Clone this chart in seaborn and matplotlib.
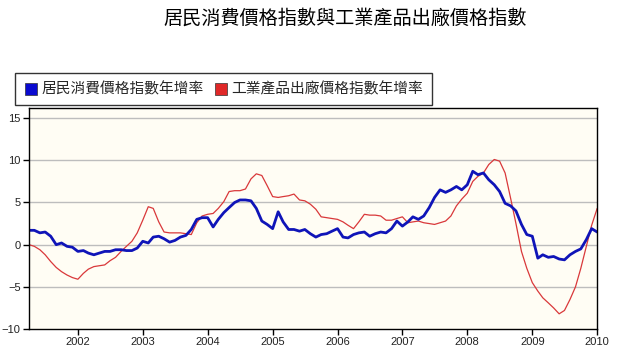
import matplotlib
matplotlib.use('Agg')
import matplotlib.pyplot as plt
from matplotlib.lines import Line2D
import seaborn as sns
import pandas as pd

sns.set_style('white')
plt.rcParams['font.family'] = ['Liberation Sans', 'Noto Sans CJK TC', 'DejaVu Sans']

# Monthly data, Apr 2001 .. Jan 2010
months = pd.date_range('2001-04-01', '2010-01-01', freq='MS')

cpi = [1.7, 1.7, 1.4, 1.5, 1.0, 0.0, 0.2, -0.2, -0.3,
       -0.8, -0.7, -1.0, -1.2, -1.0, -0.8, -0.8, -0.6, -0.6, -0.7, -0.7, -0.4,
       0.4, 0.2, 0.9, 1.0, 0.7, 0.3, 0.5, 0.9, 1.1, 1.8, 3.0, 3.2,
       3.2, 2.1, 3.0, 3.8, 4.4, 5.0, 5.3, 5.3, 5.2, 4.3, 2.8, 2.4,
       1.9, 3.9, 2.7, 1.8, 1.8, 1.6, 1.8, 1.3, 0.9, 1.2, 1.3, 1.6,
       1.9, 0.9, 0.8, 1.2, 1.4, 1.5, 1.0, 1.3, 1.5, 1.4, 1.9, 2.8,
       2.2, 2.7, 3.3, 3.0, 3.4, 4.4, 5.6, 6.5, 6.2, 6.5, 6.9, 6.5,
       7.1, 8.7, 8.3, 8.5, 7.7, 7.1, 6.3, 4.9, 4.6, 4.0, 2.4, 1.2,
       1.0, -1.6, -1.2, -1.5, -1.4, -1.7, -1.8, -1.2, -0.8, -0.5, 0.6, 1.9,
       1.5]

ppi = [0.0, -0.2, -0.6, -1.2, -2.0, -2.7, -3.2, -3.6, -3.9,
       -4.1, -3.4, -2.9, -2.6, -2.5, -2.4, -1.9, -1.5, -0.8, -0.2, 0.4, 1.4,
       2.9, 4.5, 4.3, 2.7, 1.5, 1.4, 1.4, 1.4, 1.3, 1.2, 2.6, 3.4,
       3.6, 3.7, 4.3, 5.1, 6.3, 6.4, 6.4, 6.6, 7.8, 8.4, 8.2, 7.0,
       5.7, 5.6, 5.7, 5.8, 6.0, 5.3, 5.2, 4.8, 4.2, 3.3, 3.2, 3.1,
       3.0, 2.7, 2.3, 1.9, 2.7, 3.6, 3.5, 3.5, 3.4, 2.9, 2.9, 3.1,
       3.3, 2.6, 2.7, 2.8, 2.6, 2.5, 2.4, 2.6, 2.8, 3.4, 4.6, 5.4,
       6.1, 7.5, 8.1, 8.5, 9.5, 10.1, 9.9, 8.5, 5.5, 2.5, -0.8, -2.8,
       -4.5, -5.5, -6.3, -6.9, -7.5, -8.2, -7.8, -6.5, -5.0, -2.8, -0.2, 2.3,
       4.3]

names = ['居民消費價格指數年增率', '工業產品出廠價格指數年增率']
title = '居民消費價格指數與工業產品出廠價格指數'
years = list(range(2002, 2011))

df = pd.DataFrame({'date': months, 'cpi': cpi, 'ppi': ppi})

fig = plt.figure(figsize=(6.24, 3.57), dpi=100)
ax = fig.add_axes([0.0465, 0.0784, 0.9105, 0.619])
ax.set_facecolor('#fffdf4')

for y in [-5, 0, 5, 10, 15]:
    ax.axhline(y, color='#bdbdbd', lw=1, zorder=0)

sns.lineplot(data=df, x='date', y='ppi', ax=ax, color='#d9383a', lw=0.9)
sns.lineplot(data=df, x='date', y='cpi', ax=ax, color='#0f14b8', lw=2.0)

ax.set_xlim(pd.Timestamp('2001-04-01'), pd.Timestamp('2010-01-01'))
ax.set_ylim(-10, 16.2)
ax.set_yticks([-10, -5, 0, 5, 10, 15])
ax.set_xticks([pd.Timestamp(f'{y}-01-01') for y in years])
ax.set_xticklabels([str(y) for y in years])
ax.set_xlabel('')
ax.set_ylabel('')
ax.tick_params(axis='both', direction='out', length=4, width=1, color='black',
               labelsize=8, labelcolor='#222222', pad=2, left=True, bottom=True)
for s in ax.spines.values():
    s.set_color('black')
    s.set_linewidth(1)

handles = [Line2D([], [], marker='s', ls='', markersize=8, markerfacecolor='#0a0ad0',
                  markeredgecolor='#333333', markeredgewidth=0.5),
           Line2D([], [], marker='s', ls='', markersize=8, markerfacecolor='#e02828',
                  markeredgecolor='#333333', markeredgewidth=0.5)]
leg = fig.legend(handles, names, loc='upper left', bbox_to_anchor=(0.012, 0.815),
                 ncol=2, frameon=True, fancybox=False, edgecolor='black',
                 handletextpad=0.2, columnspacing=0.7, handlelength=1.0,
                 borderpad=0.6, prop={'family': ['Noto Sans CJK TC'], 'size': 10.6})
leg.get_frame().set_linewidth(1)

fig.text(0.553, 0.95, title, ha='center', va='center', fontsize=13.8,
         family=['Noto Sans CJK TC'], color='black')

fig.savefig('out.png', dpi=100)
